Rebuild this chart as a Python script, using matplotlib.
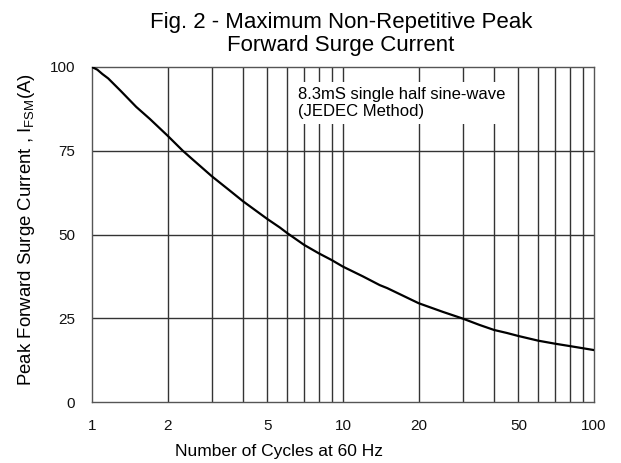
import matplotlib
matplotlib.use('Agg')
import matplotlib.pyplot as plt

plt.rcParams['font.family'] = ['Liberation Sans', 'DejaVu Sans']

# Lecturas de la curva (ciclos, corriente A)
ciclos = [1, 1.05, 1.1, 1.16, 1.3, 1.5, 1.7, 2, 2.3, 2.5, 3, 3.5, 4, 5, 5.6, 6, 7, 8, 9,
          10, 12, 14, 15, 20, 25, 30, 35, 40, 45, 50, 60, 70, 80, 100]
corriente = [100, 99.2, 97.9, 96.6, 92.9, 88.1, 84.5, 79.5, 75, 72.6, 67.4, 63.4, 59.9,
             54.6, 52.1, 50.4, 46.9, 44.4, 42.4, 40.4, 37.5, 34.9, 34.0, 29.5, 26.9,
             24.9, 23.0, 21.5, 20.6, 19.7, 18.3, 17.4, 16.7, 15.5]

x_ticks = [1, 2, 5, 10, 20, 50, 100]
y_ticks = [0, 25, 50, 75, 100]
grid_x = [2, 3, 4, 5, 6, 7, 8, 9, 10, 20, 30, 40, 50, 60, 70, 80, 90]

fig = plt.figure(figsize=(6.21, 4.63), dpi=100)
ax = fig.add_axes([92 / 621, 1 - 402 / 463, 502 / 621, 335 / 463])

ax.plot(ciclos, corriente, color='black', lw=1.6, zorder=3)
ax.set_xscale('log')
ax.set_xlim(1, 100)
ax.set_ylim(0, 100)
ax.set_xticks(x_ticks)
ax.set_xticklabels([str(v) for v in x_ticks])
ax.set_xticks([], minor=True)
ax.set_yticks(y_ticks)

for g in grid_x:
    ax.axvline(g, color='#333333', lw=1.0, zorder=1)
for g in y_ticks[1:-1]:
    ax.axhline(g, color='#333333', lw=1.0, zorder=1)

for s in ax.spines.values():
    s.set_color('#555555')
    s.set_linewidth(1.0)

ax.tick_params(length=0, labelsize=11, pad=12, colors='#111111')

ax.text(0.41, 0.940, '8.3mS single half sine-wave\n(JEDEC Method)',
        transform=ax.transAxes, ha='left', va='top', fontsize=12,
        linespacing=1.15, zorder=2,
        bbox=dict(facecolor='white', edgecolor='none', pad=3.5))

fig.text(341 / 621, 1 - 12 / 463, 'Fig. 2 - Maximum Non-Repetitive Peak\nForward Surge Current',
         ha='center', va='top', fontsize=16, linespacing=1.12)

ax.set_xlabel('Number of Cycles at 60 Hz', fontsize=12.5)
ax.xaxis.set_label_coords((279 - 92) / 502, -(444 - 402) / 335)
ax.set_ylabel(r'Peak Forward Surge Current , I$_{\mathregular{FSM}}$(A)', fontsize=13.4,
              va='center')
ax.yaxis.set_label_coords(-(92 - 27) / 502, (402 - 230) / 335)

fig.savefig('out.png', dpi=100)
